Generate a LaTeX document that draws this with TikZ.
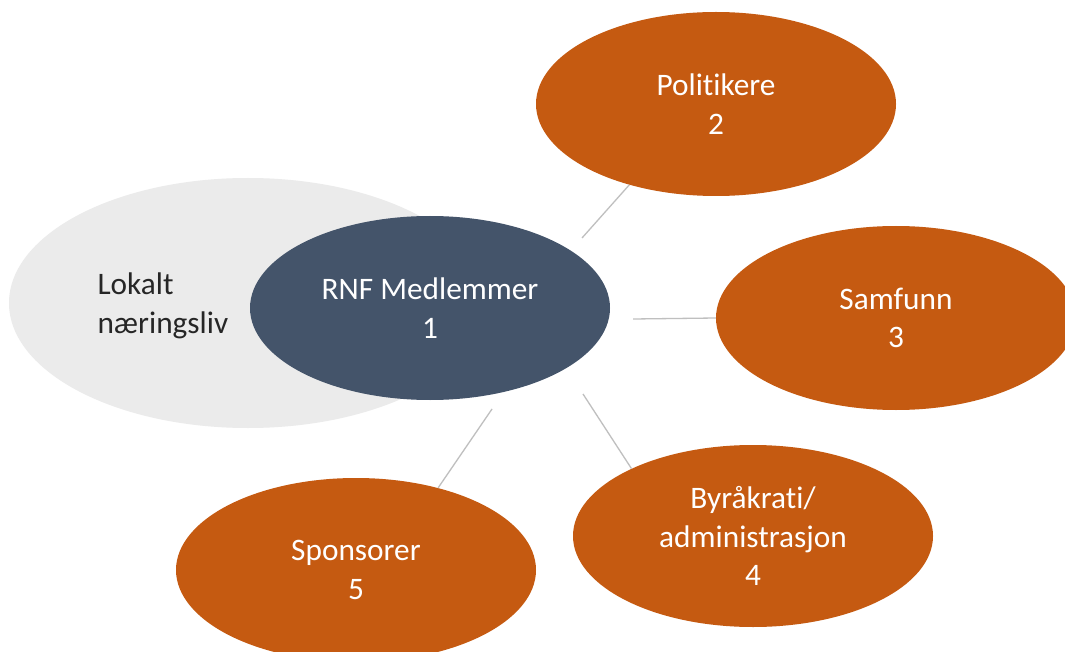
\documentclass[tikz,border=0pt]{standalone}
\usepackage{fontspec}
\setmainfont{Carlito}[Ligatures={NoCommon}]
\usetikzlibrary{shapes.geometric}
\definecolor{orng}{HTML}{C55A11}
\definecolor{slate}{HTML}{44546A}
\definecolor{lightgrey}{HTML}{EBEBEB}
\definecolor{linegrey}{HTML}{BFBFBF}
\definecolor{darktext}{HTML}{262626}
\begin{document}
\begin{tikzpicture}[x=1pt,y=-1pt,
  bubble/.style={ellipse, inner sep=0pt, minimum width=360pt, minimum height=184pt,
    fill=orng, text=white, align=center, font=\fontsize{31.3}{38.5}\selectfont},
  link/.style={draw=linegrey, line width=1.3pt}]
\useasboundingbox (0,0) rectangle (1065,652);
\clip (0,0) rectangle (1065,652);
\fill[white] (0,0) rectangle (1065,652);
\node[ellipse, inner sep=0pt, minimum width=478pt, minimum height=250pt, fill=lightgrey] (lok) at (248,303) {};
\node[anchor=west, align=left, text=darktext, font=\fontsize{31.3}{38.5}\selectfont] (loktext) at (94,306) {Lokalt\\næringsliv};
\node[bubble, fill=slate] (rnf) at (430,308) {RNF Medlemmer\\1};
\node[bubble] (pol) at (716,104) {Politikere\\2};
\node[bubble] (sam) at (896,318) {Samfunn\\3};
\node[bubble, minimum height=182pt] (byr) at (753,536) {Byråkrati/\\administrasjon\\4};
\node[bubble] (spo) at (356,570) {Sponsorer\\5};
\coordinate (c2) at (582,238);
\coordinate (c3) at (633,319);
\coordinate (c4) at (583,394);
\coordinate (c5) at (492,409);
\draw[link] (c2) -- (pol.223);
\draw[link] (c3) -- (sam.west);
\draw[link] (c4) -- (byr.151);
\draw[link] (c5) -- (spo.45);
\end{tikzpicture}
\end{document}
